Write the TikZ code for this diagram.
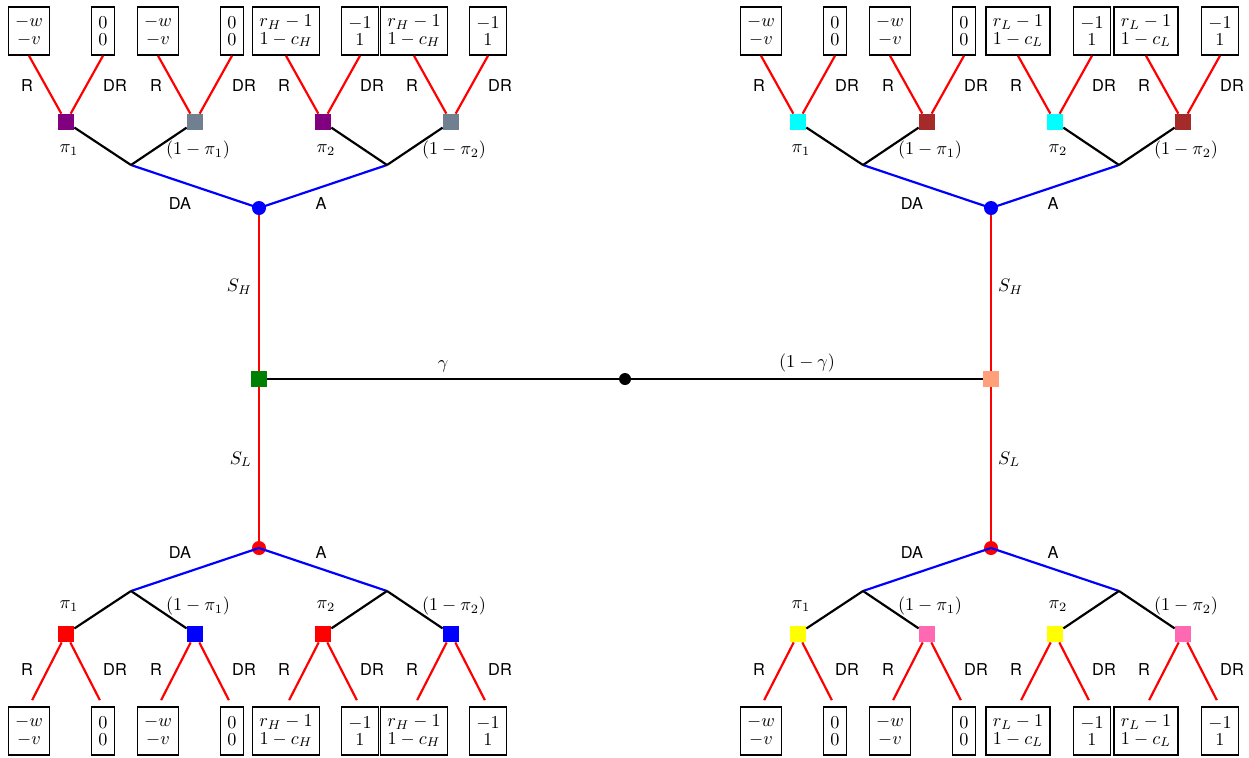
\documentclass[tikz,border=0pt]{standalone}
\usepackage{fontspec}
\setsansfont{TeX Gyre Heros}
\usepackage{tikz}
\usepackage{xcolor}
\definecolor{sqpurple}{RGB}{128,0,128}
\definecolor{sqslate}{RGB}{112,128,144}
\definecolor{sqcyan}{RGB}{0,255,255}
\definecolor{sqbrown}{RGB}{165,42,42}
\definecolor{sqyellow}{RGB}{255,255,0}
\definecolor{sqpink}{RGB}{255,105,180}
\definecolor{sqgreen}{RGB}{0,128,0}
\definecolor{sqsalmon}{RGB}{255,160,122}

\begin{document}
\begin{tikzpicture}[x=0.55pt, y=-0.55pt,
  pay/.style   ={draw, thick, align=center, inner sep=3.7pt,
                 minimum height=26.4pt, font=\fontsize{10}{9.5}\selectfont},
  info/.style  ={rectangle, minimum size=8.8pt, inner sep=0pt},
  chance/.style={circle, minimum size=7.7pt, inner sep=0pt},
  redge/.style ={red, line width=1.2pt},
  bedge/.style ={blue, line width=1.2pt},
  kedge/.style ={black, line width=1.2pt},
  act/.style   ={font=\sffamily\fontsize{9}{11}\selectfont},
  lbl/.style   ={text=black}
]
  \useasboundingbox (0,0) rectangle (1249,757);

  %% ── Nature and the two types ───────────────────────────────────────────
  \node[chance, fill=black, minimum size=6.6pt] (nature) at (625,379) {};
  \node[info, fill=sqgreen]  (typeH) at (259,379) {};
  \node[info, fill=sqsalmon] (typeL) at (991,379) {};

  %% ── Roots of the four subtrees ──────────────────────────────────────────
  \node[chance, fill=blue] (tl) at (259,208) {};
  \node[chance, fill=blue] (tr) at (991,208) {};
  \node[chance, fill=red]  (bl) at (259,548) {};
  \node[chance, fill=red]  (br) at (991,548) {};

  \draw[kedge] (typeH) -- (nature) node[lbl,above,midway]{$\gamma$};
  \draw[kedge] (nature) -- (typeL) node[lbl,above,midway]{$(1-\gamma)$};

  \draw[redge] (tl) -- (typeH) node[lbl,left,pos=0.46]{$S_H$};
  \draw[redge] (typeH) -- (bl) node[lbl,left,pos=0.47]{$S_L$};
  \draw[redge] (tr) -- (typeL) node[lbl,right,pos=0.46]{$S_H$};
  \draw[redge] (typeL) -- (br) node[lbl,right,pos=0.47]{$S_L$};

  %% ── Subtrees: dir -1 grows up, dir 1 grows down ─────────────────────────
  \foreach \tn/\dir/\ca/\cb/\ty/\an in {tl/-1/sqpurple/sqslate/H/south,
                                        tr/-1/sqcyan/sqbrown/L/south,
                                        bl/1/red/blue/H/north,
                                        br/1/sqyellow/sqpink/L/north} {
    \begin{scope}[shift={(\tn.center)}]
      \coordinate (\tn-da) at (-128,\dir*43);
      \coordinate (\tn-a)  at ( 128,\dir*43);
      \draw[bedge] (\tn-da) -- (\tn.center) -- (\tn-a);
      \node[act] (\tn-lda) at (-79,\dir*4.5) {DA};
      \node[act] (\tn-la)  at ( 62,\dir*4.5) {A};

      \foreach \n/\sx/\col/\up/\pl/\pr/\pd in {
          1/-193/\ca/da/{$\pi_1$}/{$-w$\\$-v$}/{$0$\\$0$},
          2/-64/\cb/da/{$(1-\pi_1)$}/{$-w$\\$-v$}/{$0$\\$0$},
          3/64/\ca/a/{$\pi_2$}/{$r_\ty-1$\\$1-c_\ty$}/{$-1$\\$1$},
          4/192/\cb/a/{$(1-\pi_2)$}/{$r_\ty-1$\\$1-c_\ty$}/{$-1$\\$1$}} {
        \node[info, fill=\col] (\tn-s\n) at (\sx,\dir*86) {};
        \draw[kedge] (\tn-\up) -- (\tn-s\n);
        \node (\tn-p\n) at (\sx+3,\dir*58) {\pl};

        \node[pay] (\tn-r\n) at (\sx-37,\dir*180+3) {\pr};
        \node[pay] (\tn-d\n) at (\sx+37,\dir*180+3) {\pd};
        \draw[redge, shorten >={(\dir+1)*1.9pt}] (\tn-s\n) -- (\tn-r\n.\an);
        \draw[redge, shorten >={(\dir+1)*1.9pt}] (\tn-s\n) -- (\tn-d\n.\an);
        \node[act] (\tn-lr\n) at (\sx-39,\dir*122) {R};
        \node[act] (\tn-ld\n) at (\sx+49,\dir*122) {DR};
      }
    \end{scope}
  }
\end{tikzpicture}
\end{document}
